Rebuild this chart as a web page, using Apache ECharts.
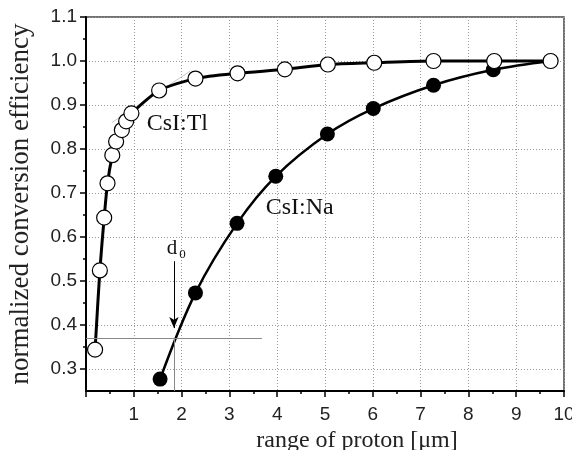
<!DOCTYPE html>
<html>
<head>
<meta charset="utf-8">
<script src="https://cdn.jsdelivr.net/npm/echarts@6/dist/echarts.min.js"></script>
<style>
html, body { margin: 0; padding: 0; background: #fff; }
#chart { width: 572px; height: 450px; }
</style>
</head>
<body>
<div id="chart"></div>
<script>
// CsI:Tl (open circles)
var tlRange = [0.19, 0.29, 0.38, 0.45, 0.55, 0.63, 0.75, 0.84, 0.95, 1.53, 2.29, 3.17, 4.16, 5.06, 6.03, 7.27, 8.54, 9.72];
var tlEff   = [0.344, 0.524, 0.644, 0.722, 0.786, 0.817, 0.843, 0.863, 0.881, 0.933, 0.960, 0.972, 0.981, 0.992, 0.996, 1.0, 1.0, 1.0];
// CsI:Na (filled circles)
var naRange = [1.55, 2.29, 3.16, 3.97, 5.05, 6.01, 7.27, 8.52, 9.72];
var naEff   = [0.277, 0.473, 0.631, 0.738, 0.834, 0.892, 0.945, 0.980, 1.0];
// faint grey fit segment near the CsI:Tl knee
var fitRange = [0.54, 2.18];
var fitEff   = [0.860, 0.977];
// d0 read-off level
var d0 = 1.84, d0Eff = 0.37;
var yTicks = [0.3, 0.4, 0.5, 0.6, 0.7, 0.8, 0.9, 1.0, 1.1];
var yMinor = [0.35, 0.45, 0.55, 0.65, 0.75, 0.85, 0.95, 1.05];

function pairs(xs, ys) {
    return xs.map(function (x, i) { return [x, ys[i]]; });
}

var myChart = echarts.init(document.getElementById('chart'));

var tickFont = { fontFamily: 'Liberation Sans', fontSize: 19, color: '#222' };
var serif = 'Liberation Serif';
var grayDots = { color: '#999', type: [1, 2], width: 1 };

var option = {
    animation: false,
    grid: {
        left: 86, right: 8, top: 17, bottom: 59,
        outerBoundsMode: 'none',
        show: true, borderColor: '#444', borderWidth: 1.5
    },
    xAxis: {
        type: 'value',
        min: 0, max: 10, interval: 1,
        name: 'range of proton [\u03bcm]',
        nameLocation: 'middle',
        nameGap: 33,
        nameTextStyle: { fontFamily: serif, fontSize: 24, color: '#222', padding: [0, 0, 0, 64] },
        axisLine: { lineStyle: { color: '#000', width: 2 } },
        axisTick: { inside: false, length: 6, lineStyle: { color: '#000', width: 1.5 } },
        minorTick: { show: true, splitNumber: 2, length: 3, lineStyle: { color: '#000', width: 1.5 } },
        axisLabel: Object.assign({ margin: 14, showMinLabel: false }, tickFont),
        splitLine: { show: true, lineStyle: grayDots }
    },
    yAxis: [{
        type: 'value',
        min: 0.25, max: 1.1,
        position: 'left',
        name: 'normalized conversion efficiency',
        nameLocation: 'middle',
        nameGap: 52,
        nameTextStyle: { fontFamily: serif, fontSize: 27, color: '#222' },
        axisLine: { lineStyle: { color: '#000', width: 2 } },
        axisTick: { customValues: yTicks, length: 6, lineStyle: { color: '#000', width: 1.5 } },
        axisLabel: Object.assign({ customValues: yTicks, margin: 9, formatter: function (v) { return v.toFixed(1); } }, tickFont),
        splitLine: { show: true, lineStyle: grayDots }
    }, {
        type: 'value',
        min: 0.25, max: 1.1,
        position: 'left',
        axisLine: { show: false },
        axisTick: { customValues: yMinor, length: 3, lineStyle: { color: '#000', width: 1.5 } },
        axisLabel: { show: false },
        splitLine: { show: false }
    }],
    series: [
        {
            name: 'fit',
            type: 'line',
            data: pairs(fitRange, fitEff),
            symbol: 'none',
            lineStyle: { color: '#c8c8c8', width: 1 },
            z: 1,
            silent: true
        },
        {
            name: 'CsI:Na',
            type: 'line',
            data: pairs(naRange, naEff),
            smooth: 0.35,
            symbol: 'circle',
            symbolSize: 15,
            itemStyle: { color: '#000' },
            lineStyle: { color: '#000', width: 2.5 },
            z: 3,
            markLine: {
                silent: true,
                symbol: 'none',
                label: { show: false },
                lineStyle: { color: '#888', width: 1, type: 'solid' },
                data: [
                    [{ coord: [0, d0Eff] }, { coord: [3.68, d0Eff] }],
                    [{ coord: [d0, d0Eff] }, { coord: [d0, 0.25] }],
                    [{ coord: [d0, 0.545], symbol: 'none', lineStyle: { color: '#000', width: 1 } },
                     { coord: [d0, 0.393], symbol: 'arrow', symbolSize: [7, 11], lineStyle: { color: '#000', width: 1 } }]
                ]
            }
        },
        {
            name: 'CsI:Tl',
            type: 'line',
            data: pairs(tlRange, tlEff),
            smooth: 0.25,
            symbol: 'circle',
            symbolSize: 15,
            itemStyle: { color: '#fff', borderColor: '#000', borderWidth: 1.2 },
            lineStyle: { color: '#000', width: 3 },
            z: 4
        }
    ]
};

myChart.setOption(option);

// annotation texts placed at data positions
function textAt(x, y, str, size) {
    var p = myChart.convertToPixel({ gridIndex: 0 }, [x, y]);
    return {
        type: 'text', x: p[0], y: p[1], z: 10,
        style: { text: str, fontFamily: serif, fontSize: size, fill: '#111', align: 'center', verticalAlign: 'middle' }
    };
}
myChart.setOption({
    graphic: [
        textAt(1.91, 0.858, 'CsI:Tl', 24),
        textAt(4.47, 0.667, 'CsI:Na', 24),
        textAt(1.80, 0.574, 'd', 21),
        textAt(2.02, 0.560, '0', 13)
    ]
});
</script>
</body>
</html>
